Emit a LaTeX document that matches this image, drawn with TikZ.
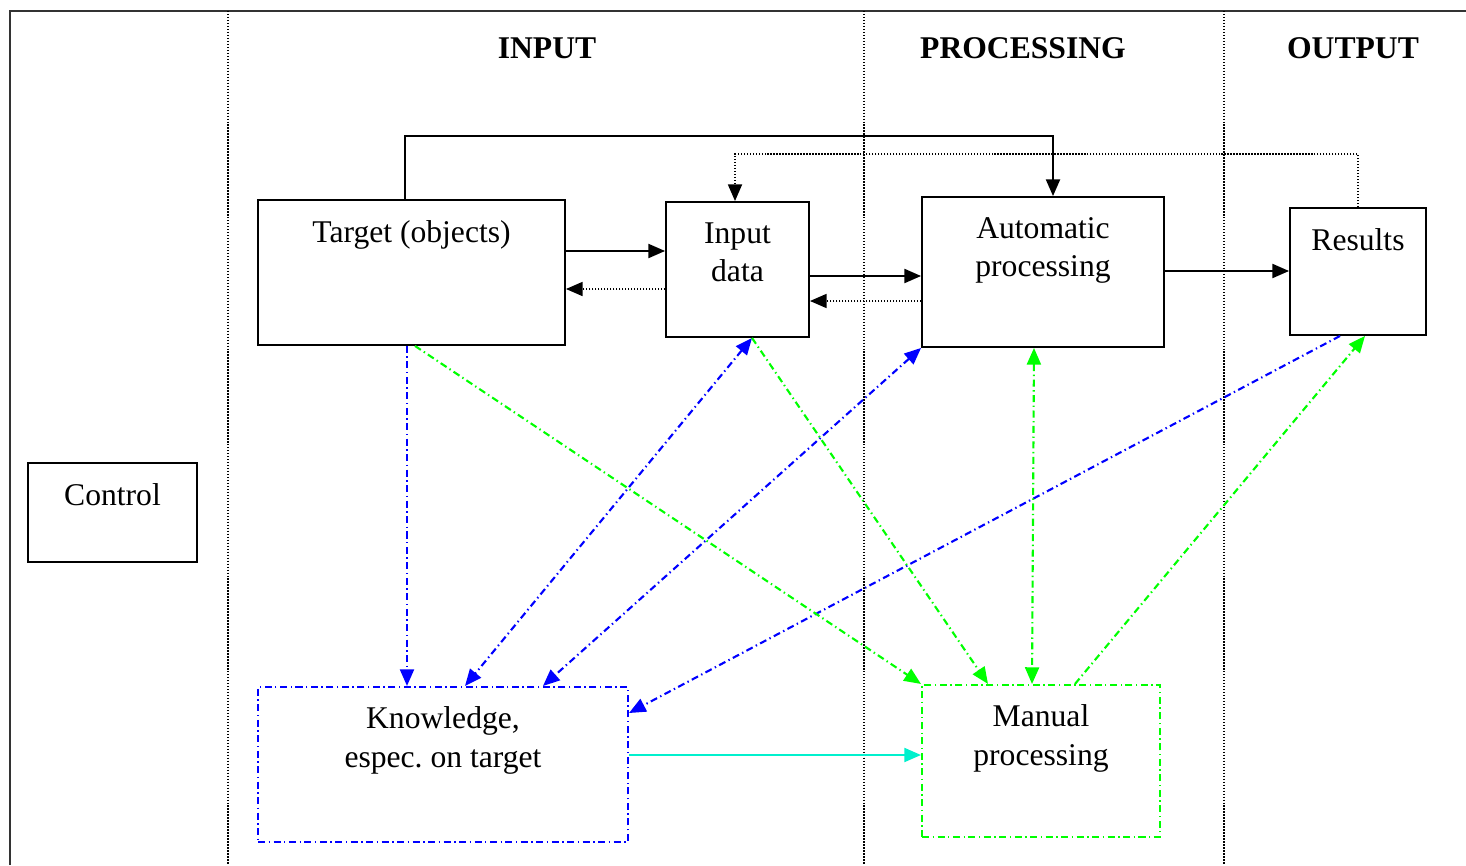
\documentclass[tikz,border=0pt]{standalone}
\usepackage{fontspec}
\setmainfont{Liberation Serif}
\usetikzlibrary{arrows.meta,positioning}
\definecolor{aqua}{RGB}{0,240,205}
\frenchspacing
\tikzset{ box_style/.style = { rectangle % block
        , draw
        , line width = 1.1pt
        }
        , text_style/.style = { inner sep = 0pt % block text
        , align = center
        , font = \fontsize{18}{22}\selectfont
        , execute at begin node = \strut
        }
        , head_style/.style = { inner sep = 0pt % column head
        , font = \fontsize{18}{22}\selectfont\bfseries
        }
        , dashdot_style/.style = { line width = 1.2pt % dash dot line
        , dash pattern = on 4pt off 2pt on 0.8pt off 2pt
        }
        }

\begin{document}
\begin{tikzpicture}[x=0.02cm, y=-0.02cm,
        >={Triangle[length=9.5pt,width=8pt]},
        frame_style/.style={draw=black!80, line width=1.4pt},
        column_style/.style={draw=black, line width=0.8pt, dash pattern=on 0.8pt off 0.9pt},
        edge_style/.style={draw=black, line width=1.1pt, ->},
        back_edge_style/.style={draw=black, line width=0.9pt, dash pattern=on 0.8pt off 0.9pt, ->},
        blue_edge_style/.style={draw=blue, dashdot_style},
        green_edge_style/.style={draw=green, dashdot_style},
        aqua_edge_style/.style={draw=aqua, line width=1.1pt, ->}]
        \useasboundingbox (0,0) rectangle (1466,865);

        % frame and columns
        \draw [frame_style] (10,865) -- (10,11) -- (1466,11);
        \foreach \x in {228,864,1224}
            \draw [column_style] (\x,11) -- (\x,865);

        \node [head_style] (in_head) at (547,48) {INPUT};
        \node [head_style] (proc_head) at (1023,48) {PROCESSING};
        \node [head_style] (out_head) at (1353,48) {OUTPUT};

        % blocks
        \node [box_style, minimum width=6.14cm, minimum height=2.9cm] (target) at (411.5,272.5) {};
        \node [text_style, below=0.33cm of target.north] (target_text) {Target (objects)};
        \node [box_style, minimum width=2.86cm, minimum height=2.7cm] (indata) at (737.5,269.5) {};
        \node [text_style, below=0.42cm of indata.north] (indata_text) {Input\\data};
        \node [box_style, minimum width=4.84cm, minimum height=3cm] (auto) at (1043,272) {};
        \node [text_style, below=0.42cm of auto.north] (auto_text) {Automatic\\processing};
        \node [box_style, minimum width=2.72cm, minimum height=2.54cm] (results) at (1358,271.5) {};
        \node [text_style, below=0.32cm of results.north] (results_text) {Results};
        \node [box_style, minimum width=3.38cm, minimum height=1.98cm] (control) at (112.5,512.5) {};
        \node [text_style, below=0.32cm of control.north] (control_text) {Control};
        \node [box_style, draw=blue, dashdot_style, minimum width=7.4cm, minimum height=3.1cm] (knowledge) at (443,764.5) {};
        \node [text_style, below=0.41cm of knowledge.north] (knowledge_text) {Knowledge,\\espec. on target};
        \node [box_style, draw=green, dashdot_style, minimum width=4.76cm, minimum height=3.04cm] (manual) at (1041,761) {};
        \node [text_style, below=0.41cm of manual.north] (manual_text) {Manual\\processing};

        % helper points
        \coordinate (top_left) at (405,136);
        \coordinate (top_right) at (1053,136);
        \coordinate (back_left) at (735,154);
        \coordinate (row_a) at (0,251);
        \coordinate (row_b) at (0,289);
        \coordinate (row_c) at (0,276);
        \coordinate (row_d) at (0,301);
        \coordinate (row_e) at (0,271);
        \coordinate (row_f) at (0,755);
        \coordinate (row_g) at (0,713);
        \coordinate (col_a) at (407,0);
        \coordinate (col_b) at (752,0);
        \coordinate (col_c) at (465,0);
        \coordinate (col_d) at (543,0);
        \coordinate (col_e) at (1340,0);
        \coordinate (col_f) at (415,0);
        \coordinate (col_g) at (988,0);
        \coordinate (col_h) at (1034,0);
        \coordinate (col_i) at (1032,0);
        \coordinate (col_j) at (1075,0);
        \coordinate (col_k) at (1365,0);

        % black flow
        \draw [edge_style] (target.north -| top_left) -- (top_left) -- (top_right) -- (auto.north -| top_right);
        \draw [back_edge_style] (results.north) |- (back_left) -- (indata.north -| back_left);
        \draw [edge_style] (target.east |- row_a) -- (indata.west |- row_a);
        \draw [back_edge_style] (indata.west |- row_b) -- (target.east |- row_b);
        \draw [edge_style] (indata.east |- row_c) -- (auto.west |- row_c);
        \draw [back_edge_style] (auto.west |- row_d) -- (indata.east |- row_d);
        \draw [edge_style] (auto.east |- row_e) -- (results.west |- row_e);

        % knowledge links
        \draw [blue_edge_style, ->] (target.south -| col_a) -- (knowledge.north -| col_a);
        \draw [blue_edge_style, <->] (indata.south -| col_b) -- (knowledge.north -| col_c);
        \draw [blue_edge_style, <->] (auto.south west) -- (knowledge.north -| col_d);
        \draw [blue_edge_style, ->] (results.south -| col_e) -- (knowledge.east |- row_g);

        % manual links
        \draw [green_edge_style, ->] (target.south -| col_f) -- (manual.north west);
        \draw [green_edge_style, ->] (indata.south -| col_b) -- (manual.north -| col_g);
        \draw [green_edge_style, <->] (auto.south -| col_h) -- (manual.north -| col_i);
        \draw [green_edge_style, ->] (manual.north -| col_j) -- (results.south -| col_k);

        \draw [aqua_edge_style] (knowledge.east |- row_f) -- (manual.west |- row_f);
\end{tikzpicture}
\end{document}
